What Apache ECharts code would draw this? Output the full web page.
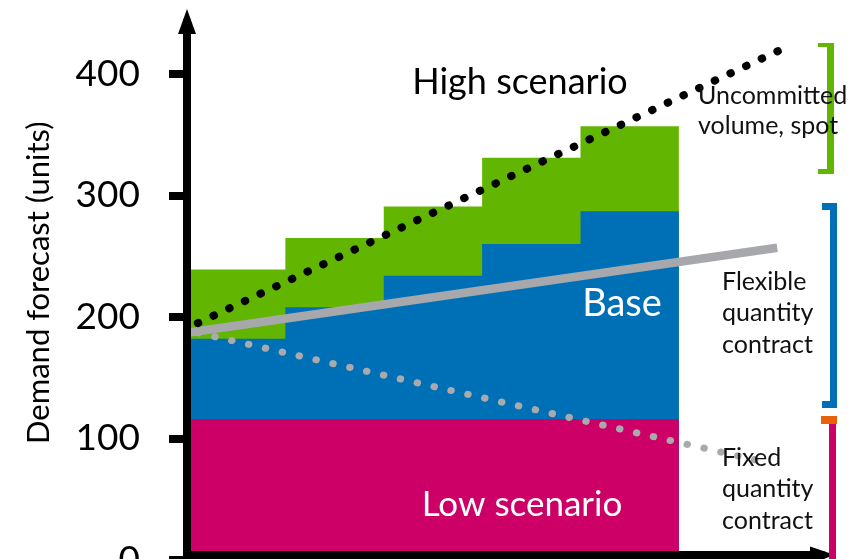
<!DOCTYPE html>
<html>
<head>
<meta charset="utf-8">
<script src="https://cdn.jsdelivr.net/npm/echarts@6/dist/echarts.min.js"></script>
<style>
html,body{margin:0;padding:0;background:#fff;}
#chart{width:857px;height:559px;}
</style>
</head>
<body>
<div id="chart"></div>
<script>
// ---- data ----
const periods = [0, 1, 2, 3, 4, 5];               // period boundaries
const fixedQty = [116, 116, 116, 116, 116];        // fixed quantity contract (top of pink)
const baseTop = [182, 208, 234, 260, 287];         // top of base (blue)
const highTop = [239, 265, 291, 331, 357];         // top of uncommitted / spot (green)
const highScenario = [[0.11, 195], [6.01, 419]];   // black dotted
const flexTrend = [[0, 187], [6, 257]];            // grey solid
const lowScenario = [[0.11, 187], [5.8, 82]];      // grey dotted
const yTicks = [0, 100, 200, 300, 400];

const FONT = 'Lato';

function stepData(vals) {
  const d = vals.map((v, i) => [periods[i], v]);
  d.push([periods[periods.length - 1], vals[vals.length - 1]]);
  return d;
}

function areaSeries(name, vals, color) {
  return {
    name, type: 'line', step: 'end', data: stepData(vals),
    symbol: 'none', lineStyle: { width: 0 },
    areaStyle: { color, opacity: 1 }, silent: true
  };
}

const chart = echarts.init(document.getElementById('chart'), null, { renderer: 'canvas' });

const option = {
  animation: false,
  backgroundColor: '#fff',
  grid: { left: 187, right: 34.5, top: 21.5, bottom: -1, outerBoundsMode: 'none', containLabel: false },
  xAxis: {
    type: 'value', min: 0, max: 6.46, offset: -5, z: 10,
    axisLine: { show: true, onZero: false, symbol: ['none', 'triangle'], symbolSize: [17, 25],
      lineStyle: { color: '#000', width: 8 } },
    axisTick: { show: false }, axisLabel: { show: false }, splitLine: { show: false }
  },
  yAxis: {
    type: 'value', min: 0, max: 443.2, offset: 5, z: 10,
    name: 'Demand forecast (units)', nameLocation: 'middle', nameGap: 128, nameRotate: 90,
    nameTextStyle: { fontFamily: FONT, fontSize: 31, color: '#000', padding: [0, 0, 0, 16] },
    axisLine: { show: true, symbol: ['none', 'triangle'], symbolSize: [18, 25],
      lineStyle: { color: '#000', width: 8 } },
    axisTick: { show: true, length: 18, customValues: yTicks, lineStyle: { color: '#000', width: 8 } },
    axisLabel: { show: true, customValues: yTicks, margin: 42, fontFamily: FONT, fontSize: 37, color: '#000' },
    splitLine: { show: false }
  },
  series: [
    areaSeries('Uncommitted volume, spot', highTop, '#62b500'),
    areaSeries('Flexible quantity contract', baseTop, '#0070b6'),
    areaSeries('Fixed quantity contract', fixedQty, '#cc0066'),
    { name: 'Low scenario', type: 'line', data: lowScenario, symbol: 'none', silent: true,
      lineStyle: { color: '#a9aaae', width: 7, type: [0.5, 16.8], cap: 'round' } },
    { name: 'Trend', type: 'line', data: flexTrend, symbol: 'none', silent: true,
      lineStyle: { color: '#a7a8ac', width: 8.5, cap: 'butt' } },
    { name: 'High scenario', type: 'line', data: highScenario, symbol: 'none', silent: true,
      lineStyle: { color: '#000', width: 8, type: [0.5, 16.8], cap: 'round' } }
  ],
  graphic: [
    { type: 'text', z: 100, x: 520, y: 82, style: { text: 'High scenario', fill: '#000', font: '36px ' + FONT, textAlign: 'center', textVerticalAlign: 'middle' } },
    { type: 'text', z: 100, x: 622, y: 304, style: { text: 'Base', fill: '#fff', font: '38px ' + FONT, textAlign: 'center', textVerticalAlign: 'middle' } },
    { type: 'text', z: 100, x: 522, y: 505, style: { text: 'Low scenario', fill: '#fff', font: '35px ' + FONT, textAlign: 'center', textVerticalAlign: 'middle' } },
    { type: 'text', z: 100, x: 698, y: 81, style: { text: 'Uncommitted\nvolume, spot', fill: '#111', font: '25px ' + FONT, lineHeight: 30, textAlign: 'left', textVerticalAlign: 'top' } },
    { type: 'text', z: 100, x: 722, y: 266, style: { text: 'Flexible\nquantity\ncontract', fill: '#111', font: '25px ' + FONT, lineHeight: 31.5, textAlign: 'left', textVerticalAlign: 'top' } },
    { type: 'text', z: 100, x: 722, y: 442, style: { text: 'Fixed\nquantity\ncontract', fill: '#111', font: '25px ' + FONT, lineHeight: 31.5, textAlign: 'left', textVerticalAlign: 'top' } },
    // brackets
    { type: 'rect', z: 50, shape: { x: 827, y: 43, width: 7, height: 131 }, style: { fill: '#62b500' } },
    { type: 'rect', z: 50, shape: { x: 818, y: 43, width: 16, height: 4 }, style: { fill: '#62b500' } },
    { type: 'rect', z: 50, shape: { x: 818, y: 169, width: 16, height: 5 }, style: { fill: '#62b500' } },
    { type: 'rect', z: 50, shape: { x: 830, y: 203, width: 7, height: 205 }, style: { fill: '#0070b6' } },
    { type: 'rect', z: 50, shape: { x: 822, y: 203, width: 15, height: 7 }, style: { fill: '#0070b6' } },
    { type: 'rect', z: 50, shape: { x: 822, y: 401, width: 15, height: 7 }, style: { fill: '#0070b6' } },
    { type: 'rect', z: 50, shape: { x: 829, y: 418, width: 7, height: 145 }, style: { fill: '#cc0066' } },
    { type: 'rect', z: 51, shape: { x: 821, y: 416, width: 16, height: 8 }, style: { fill: '#e8620c' } }
  ]
};
chart.setOption(option);
</script>
</body>
</html>
